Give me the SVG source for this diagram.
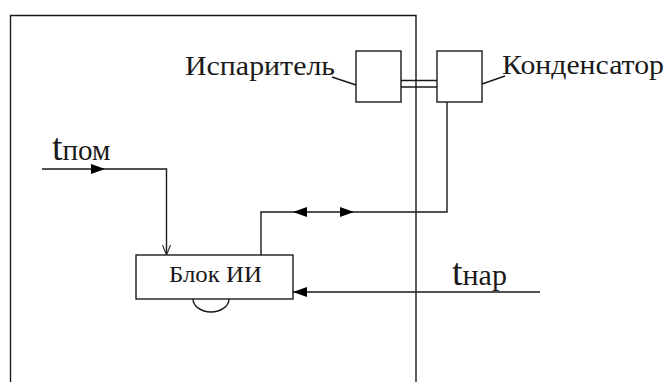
<svg xmlns="http://www.w3.org/2000/svg" width="668" height="382" viewBox="0 0 668 382">
<style>
.ln{fill:none;stroke:#1a1a1a;stroke-width:1.4}
.bx{fill:#fff;stroke:#1a1a1a;stroke-width:1.4}
text{font-family:'Liberation Serif','DejaVu Serif',serif;fill:#1a1a1a}
</style>
<defs>
<marker id="fa2" viewBox="0 0 14 10" refX="14" refY="5" markerWidth="14" markerHeight="10" markerUnits="userSpaceOnUse" orient="auto-start-reverse">
<path d="M0,0 L14,5 L0,10 Z" fill="#000"/>
</marker>
<marker id="oa" viewBox="0 0 10 10" refX="10" refY="5" markerWidth="10" markerHeight="10" markerUnits="userSpaceOnUse" orient="auto">
<path d="M0,1 L10,5 L0,9" fill="none" stroke="#333" stroke-width="1.2"/>
</marker>
</defs>
<g id="frame">
<path class="ln" d="M10.5,382 V15.5 H416 V382"/>
</g>
<g id="evaporator">
<rect class="bx" x="356" y="51" width="45" height="51"/>
<text x="185" y="75" font-size="28" textLength="150" lengthAdjust="spacingAndGlyphs">Испаритель</text>
</g>
<g id="condenser">
<rect class="bx" x="437" y="51" width="45" height="51"/>
<text x="502" y="74" font-size="27" textLength="162" lengthAdjust="spacingAndGlyphs">Конденсатор</text>
</g>
<g id="block">
<rect class="bx" x="136" y="255" width="157" height="44"/>
<text x="169" y="282" font-size="23" textLength="93" lengthAdjust="spacingAndGlyphs">Блок ИИ</text>
<path class="ln" d="M193,299 A18,13 0 0,0 229,299"/>
</g>
<g id="labels">
<text x="52" y="160"><tspan font-size="38">t</tspan><tspan font-size="29">пом</tspan></text>
<text x="452" y="285"><tspan font-size="38">t</tspan><tspan font-size="30">нар</tspan></text>
</g>
<g id="connectors">
<path class="ln" d="M332,77 L356,85"/>
<path class="ln" d="M482,84 L505,76"/>
<path class="ln" d="M401,80.5 H437 M401,87 H437"/>
<path class="ln" d="M42,169 H105" marker-end="url(#fa2)"/>
<path class="ln" d="M105,169 H166.5 V255" marker-end="url(#oa)"/>
<path class="ln" d="M261,255 V212 H293"/>
<path class="ln" d="M293,212 H354" marker-start="url(#fa2)" marker-end="url(#fa2)"/>
<path class="ln" d="M354,212 H447 V102"/>
<path class="ln" d="M540,292 H293" marker-end="url(#fa2)"/>
</g>
</svg>
